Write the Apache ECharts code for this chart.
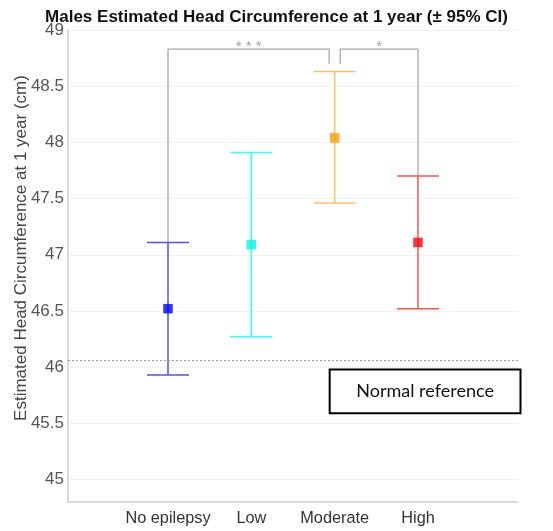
<!DOCTYPE html>
<html><head><meta charset="utf-8">
<script src="https://cdn.jsdelivr.net/npm/echarts@6/dist/echarts.min.js"></script>
<style>html,body{margin:0;padding:0;background:#fff}#c{width:553px;height:531px}</style>
</head><body><div id="c"></div>
<script>
const categories = ['No epilepsy', 'Low', 'Moderate', 'High'];
const catPos = [1, 2, 3, 4];
const estimates = [46.52, 47.09, 48.04, 47.11];
const lowerCI = [45.93, 46.27, 47.46, 46.52];
const upperCI = [47.11, 47.91, 48.63, 47.70];
const markerColors = ['#0000ff', '#00f0f0', '#ff9900', '#ff0000'];
const lineColors = ['#5050ff', '#30ffff', '#ffc060', '#ff5050'];
const yTicks = [45, 45.5, 46, 46.5, 47, 47.5, 48, 48.5, 49];
const normalRef = 46.065;
// significance brackets: [xLeft, xRight, top, leftEnd, rightEnd, label]
const brackets = [
  [1, 2.934, 48.83, 47.11, 48.70, '* * *'],
  [3.066, 4, 48.83, 48.70, 47.70, '*']
];
const refBox = {x0: 2.94, x1: 5.23, y0: 45.98, y1: 45.59, text: 'Normal reference'};

const bracketData = [];
brackets.forEach(b => {
  bracketData.push([b[0], b[3]], [b[0], b[2]], [b[1], b[2]], [b[1], b[4]], '-');
});
const starData = brackets.map(b => ({value: [(b[0] + b[1]) / 2, b[2]], label: b[5]}));

const chart = echarts.init(document.getElementById('c'));
const option = {
  animation: false,
  title: {
    text: 'Males Estimated Head Circumference at 1 year (\u00b1 95% CI)',
    left: 'center', top: 4,
    textStyle: {fontFamily: 'Liberation Sans', fontSize: 17, fontWeight: 'bold', color: '#111'}
  },
  grid: {left: 68, right: 35, top: 30, bottom: 29, containLabel: false, outerBoundsMode: 'none'},
  xAxis: {
    type: 'value', min: -0.2, max: 5.2,
    axisLine: {show: true, onZero: false, lineStyle: {color: '#cfcfcf', width: 1.5}},
    axisTick: {show: false},
    splitLine: {show: false},
    axisLabel: {
      customValues: catPos,
      formatter: v => categories[catPos.indexOf(v)] || '',
      fontFamily: 'Liberation Sans', fontSize: 16.3, color: '#333', margin: 9
    }
  },
  yAxis: {
    type: 'value', min: 44.8, max: 49,
    name: 'Estimated Head Circumference at 1 year (cm)',
    nameLocation: 'middle', nameGap: 38, nameMoveOverlap: false,
    nameTextStyle: {fontFamily: 'Liberation Sans', fontSize: 17, color: '#444', padding: [0, 0, 0, 36]},
    axisLine: {show: true, onZero: false, lineStyle: {color: '#cfcfcf', width: 1.5}},
    axisTick: {show: false, customValues: yTicks},
    splitLine: {show: true, lineStyle: {color: '#f2f2f2', width: 1}},
    axisLabel: {
      customValues: yTicks,
      fontFamily: 'Liberation Sans', fontSize: 17, color: '#555', margin: 4
    }
  },
  series: [
    {
      type: 'line', data: bracketData, connectNulls: false, symbol: 'none',
      lineStyle: {color: '#a8a8a8', width: 1.3}, z: 1, silent: true
    },
    {
      type: 'scatter', data: starData, symbolSize: 0,
      label: {show: true, position: 'top', distance: -5, formatter: p => p.data.label,
        color: '#888', fontSize: 15, fontFamily: 'Liberation Sans'}
    },
    {
      type: 'custom', z: 3,
      data: catPos.map((x, i) => [x, lowerCI[i], upperCI[i]]),
      renderItem: function (params, api) {
        const i = params.dataIndex;
        const lo = api.coord([api.value(0), api.value(1)]);
        const hi = api.coord([api.value(0), api.value(2)]);
        const hw = 21;
        const st = {stroke: lineColors[i], lineWidth: 1.5};
        return {type: 'group', children: [
          {type: 'line', shape: {x1: lo[0], y1: lo[1], x2: hi[0], y2: hi[1]}, style: st},
          {type: 'line', shape: {x1: lo[0] - hw, y1: lo[1], x2: lo[0] + hw, y2: lo[1]}, style: st},
          {type: 'line', shape: {x1: hi[0] - hw, y1: hi[1], x2: hi[0] + hw, y2: hi[1]}, style: st}
        ]};
      }
    },
    {
      type: 'scatter', z: 4, symbol: 'rect', symbolSize: 9.5,
      data: catPos.map((x, i) => ({value: [x, estimates[i]], itemStyle: {color: markerColors[i]}}))
    },
    {
      type: 'line', symbol: 'none', data: [],
      markLine: {
        silent: true, symbol: 'none', label: {show: false},
        lineStyle: {type: [2, 2], color: '#9a9a9a', width: 1},
        data: [{yAxis: normalRef}]
      }
    }
  ]
};
chart.setOption(option);
const p0 = chart.convertToPixel({gridIndex: 0}, [refBox.x0, refBox.y0]);
const p1 = chart.convertToPixel({gridIndex: 0}, [refBox.x1, refBox.y1]);
chart.setOption({
  graphic: [
    {type: 'rect', z: 10, shape: {x: p0[0], y: p0[1], width: p1[0] - p0[0], height: p1[1] - p0[1]},
      style: {fill: '#fff', stroke: '#000', lineWidth: 2}},
    {type: 'text', z: 11, x: (p0[0] + p1[0]) / 2, y: (p0[1] + p1[1]) / 2,
      style: {text: refBox.text, font: '18px Lato', fill: '#111', align: 'center', verticalAlign: 'middle'}}
  ]
});
</script></body></html>
